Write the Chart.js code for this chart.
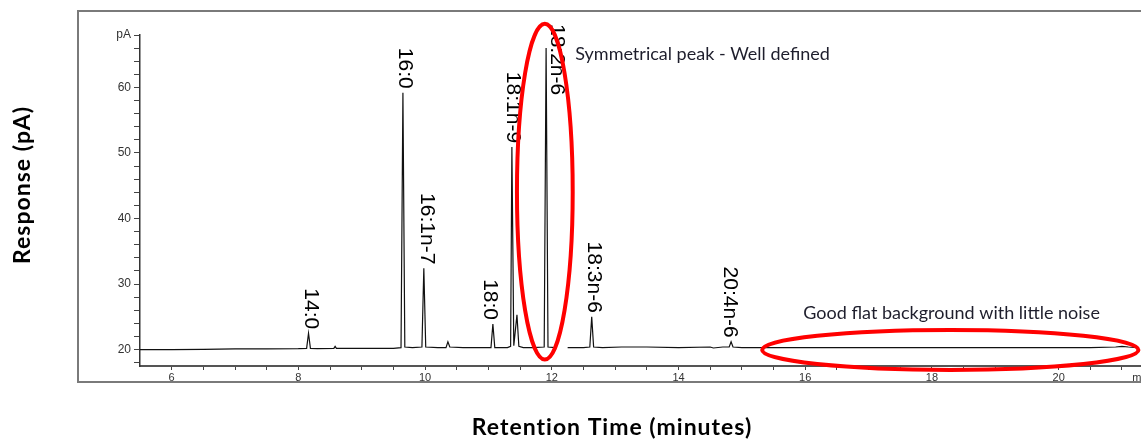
<!DOCTYPE html>
<html>
<head>
<meta charset="utf-8">
<script src="https://cdn.jsdelivr.net/npm/chart.js@4/dist/chart.umd.min.js"></script>
<style>
html, body { margin: 0; padding: 0; background: #fff; }
#wrap { width: 1141px; height: 440px; position: relative; }
</style>
</head>
<body>
<div id="wrap"><canvas id="gcChart"></canvas></div>
<script>
// GC-FID trace: retention time (min) vs response (pA)
const retentionTimes = [5.5, 6.0, 6.5, 7.0, 7.5, 8.0, 8.13, 8.16, 8.19, 8.3, 8.56, 8.58, 8.6, 9.0, 9.5, 9.62, 9.65, 9.68,
  9.8, 9.95, 9.98, 10.01, 10.2, 10.33, 10.36, 10.39, 10.6, 10.9, 11.04, 11.07, 11.1, 11.3, 11.35, 11.37, 11.4, 11.45,
  11.48, 11.55, 11.7, 11.88, 11.91, 11.94, 12.05, 12.15, 12.25, 12.5, 12.6, 12.63, 12.66, 12.8, 13.1, 13.5, 14.0,
  14.5, 14.55, 14.7, 14.8, 14.83, 14.86, 15.0, 15.5, 16.0, 16.5, 17.0, 17.5, 18.0, 18.5, 19.0, 19.5, 20.0, 20.5,
  20.9, 21.0, 21.1, 21.25];
const responses = [20.0, 20.0, 20.05, 20.1, 20.1, 20.15, 20.2, 22.5, 20.2, 20.15, 20.2, 20.5, 20.2, 20.2, 20.2, 20.3, 59.2, 20.4,
  20.3, 20.4, 32.4, 20.4, 20.3, 20.3, 21.2, 20.4, 20.3, 20.3, 20.3, 23.9, 20.3, 20.3, 20.5, 50.9, 20.6, 25.3,
  20.5, 20.3, 20.3, 20.4, 66.0, 20.4, 20.3, null, 20.3, 20.3, 20.4, 25.0, 20.4, 20.3, 20.4, 20.4, 20.3,
  20.4, 20.25, 20.4, 20.4, 21.2, 20.4, 20.3, 20.3, 20.3, 20.3, 20.3, 20.3, 20.3, 20.3, 20.3, 20.3, 20.3, 20.3,
  20.4, 20.5, 20.4, 20.3];

// peak labels: name, retention time the label sits over, apex height
const peakNames = ['14:0', '16:0', '16:1n-7', '18:0', '18:1n-9', '18:2n-6', '18:3n-6', '20:4n-6'];
const peakTimes = [8.19, 9.68, 10.02, 11.02, 11.39, 12.08, 12.66, 14.81];
const peakApex = [22.5, 59.2, 32.4, 23.9, 50.9, 66.0, 25.0, 21.2];

const yTickValues = [18, 20, 22, 24, 26, 28, 30, 32, 34, 36, 38, 40, 42, 44, 46, 48, 50, 52, 54, 56, 58, 60, 62, 64, 66, 68];
const xTickValues = [6, 6.5, 7, 7.5, 8, 8.5, 9, 9.5, 10, 10.5, 11, 11.5, 12, 12.5, 13, 13.5, 14, 14.5, 15, 15.5,
  16, 16.5, 17, 17.5, 18, 18.5, 19, 19.5, 20, 20.5, 21, 21.3];

const notes = [
  { text: 'Symmetrical peak - Well defined', t: 12.37, v: 65.0 },
  { text: 'Good flat background with little noise', t: 15.97, v: 25.6 }
];
const rings = [
  { t: 11.89, v: 44.1, rt: 0.44, rv: 25.6 },
  { t: 18.29, v: 19.95, rt: 2.97, rv: 3.05 }
];

const tracePoints = retentionTimes.map((t, i) => ({ x: t, y: responses[i] }));

const decorations = {
  id: 'decorations',
  beforeDraw(chart) {
    const c = chart.ctx;
    c.save();
    c.strokeStyle = '#7a7a7a';
    c.lineWidth = 2;
    c.strokeRect(78, 11, 1141 - 78 + 10, 382 - 11);
    c.restore();
  },
  afterDatasetsDraw(chart) {
    const c = chart.ctx;
    const xs = chart.scales.x, ys = chart.scales.y;
    c.save();
    // peak names, rotated to read downward
    c.font = '21px "Liberation Sans", Arial, sans-serif';
    c.fillStyle = '#000';
    c.textBaseline = 'middle';
    peakNames.forEach((name, i) => {
      const px = xs.getPixelForValue(peakTimes[i]);
      const w = c.measureText(name).width;
      let top = ys.getPixelForValue(peakApex[i]) - 4 - w;
      if (top < 24) top = 24;
      c.save();
      c.translate(px, top);
      c.rotate(Math.PI / 2);
      c.textAlign = 'left';
      c.fillText(name, 0, 0);
      c.restore();
    });
    // red rings
    c.strokeStyle = '#ff0000';
    c.lineWidth = 4;
    rings.forEach(r => {
      const cx = xs.getPixelForValue(r.t), cy = ys.getPixelForValue(r.v);
      const rx = xs.getPixelForValue(r.t + r.rt) - cx;
      const ry = cy - ys.getPixelForValue(r.v + r.rv);
      c.beginPath();
      c.ellipse(cx, cy, rx, ry, 0, 0, Math.PI * 2);
      c.stroke();
    });
    // notes
    c.font = '18px Lato, "Open Sans", sans-serif';
    c.fillStyle = '#1e1e2c';
    c.textAlign = 'left';
    c.textBaseline = 'middle';
    notes.forEach(n => c.fillText(n.text, xs.getPixelForValue(n.t), ys.getPixelForValue(n.v)));
    // axis titles
    c.font = 'bold 23px Lato, "Open Sans", sans-serif';
    c.letterSpacing = '1px';
    c.fillStyle = '#000';
    c.textAlign = 'center';
    c.fillText('Retention Time (minutes)', 612, 428);
    c.save();
    c.translate(23, 185);
    c.rotate(-Math.PI / 2);
    c.fillText('Response (pA)', 0, 0);
    c.restore();
    c.letterSpacing = '0px';
    c.restore();
  }
};

new Chart(document.getElementById('gcChart'), {
  type: 'line',
  data: {
    datasets: [{
      data: tracePoints,
      borderColor: '#111',
      borderWidth: 1.2,
      pointRadius: 0,
      tension: 0,
      spanGaps: false,
      fill: false
    }]
  },
  options: {
    responsive: true,
    maintainAspectRatio: false,
    animation: false,
    layout: { padding: { top: 35, left: 0, right: 0, bottom: 0 } },
    plugins: { legend: { display: false }, tooltip: { enabled: false } },
    scales: {
      x: {
        type: 'linear',
        min: 5.5,
        max: 21.3,
        afterBuildTicks: s => { s.ticks = xTickValues.map(v => ({ value: v })); },
        afterFit: s => { s.height = 74; s.paddingLeft = 0; s.paddingRight = 0; },
        grid: { drawOnChartArea: false, color: '#444', tickLength: 4, lineWidth: 1 },
        border: { color: '#555', width: 2 },
        ticks: {
          autoSkip: false,
          maxRotation: 0,
          padding: 1,
          color: '#333',
          font: { family: '"Liberation Sans", Arial, sans-serif', size: 11 },
          callback: v => (v === 21.3 ? 'min' : (v % 2 === 0 ? String(v) : ''))
        }
      },
      y: {
        min: 17.5,
        max: 68,
        afterBuildTicks: s => { s.ticks = yTickValues.map(v => ({ value: v })); },
        afterFit: s => { s.width = 140; s.paddingTop = 0; s.paddingBottom = 0; },
        grid: { drawOnChartArea: false, color: '#444', tickLength: 6, lineWidth: 1 },
        border: { color: '#333', width: 1.5 },
        ticks: {
          autoSkip: false,
          padding: 3,
          color: '#333',
          font: { family: '"Liberation Sans", Arial, sans-serif', size: 12 },
          callback: v => (v === 68 ? 'pA' : (v % 10 === 0 ? String(v) : ''))
        }
      }
    }
  },
  plugins: [decorations]
});
</script>
</body>
</html>
